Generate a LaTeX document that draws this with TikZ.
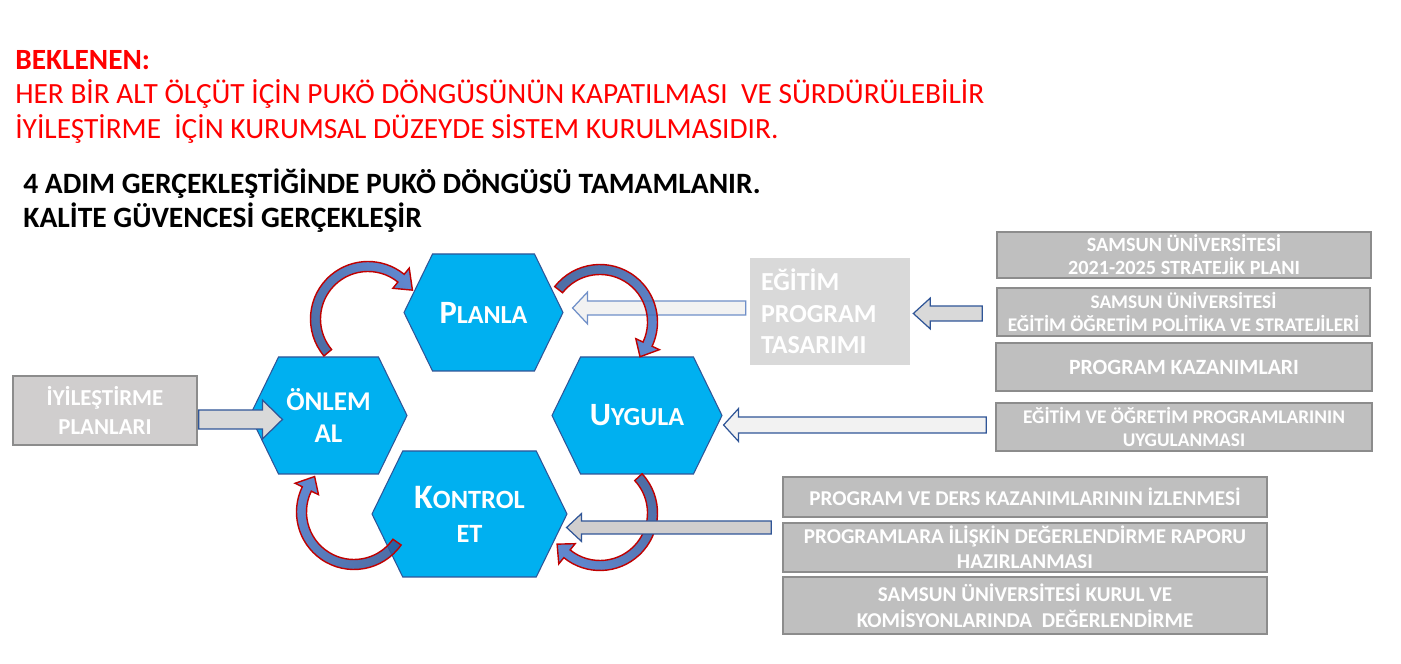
\documentclass[tikz,border=0pt]{standalone}
\usepackage{fontspec}
\setmainfont{Carlito}
\usetikzlibrary{calc,shapes.symbols}

\definecolor{hexblue}{HTML}{00B0F0}
\definecolor{hexline}{HTML}{2F5597}
\definecolor{arrowdark}{HTML}{2F5597}
\definecolor{arrowlight}{HTML}{4472C4}
\definecolor{arrowred}{HTML}{C00000}
\definecolor{boxgrey}{HTML}{BFBFBF}
\definecolor{boxline}{HTML}{8C8C8C}
\definecolor{paleblock}{HTML}{F2F2F2}
\definecolor{midblock}{HTML}{D0CECE}
\definecolor{lightblock}{HTML}{D9D9D9}
\definecolor{paleline}{HTML}{6F8FC8}
\definecolor{titlered}{HTML}{FF0000}

\newcommand{\fsz}[2]{\fontsize{#1}{#2}\selectfont}

% ring arrow of the cycle: centre, tail angle, head angle, tip angle, shading angle
\newcommand{\cyclearrow}[5]{%
  \draw[ringarrow, top color=arrowdark, bottom color=arrowlight, shading angle=#5]
    ([shift={(#1)}]#2:1.15) arc[start angle=#2, end angle=#3, radius=1.15]
    -- ([shift={(#1)}]#3:1.31) -- ([shift={(#1)}]#4:1.06)
    -- ([shift={(#1)}]#3:0.79) -- ([shift={(#1)}]#3:0.95)
    arc[start angle=#3, end angle=#2, radius=0.95] -- cycle;}

% block arrow: style, tail, tip, shaft half width, head half width, head length (cm)
\newcommand{\blockarrow}[6][]{%
  \coordinate (ba-h) at ($(#3)!#6cm!(#2)$);
  \draw[#1] (#3) -- ($(ba-h)!#5cm!90:(#2)$) -- ($(ba-h)!#4cm!90:(#2)$)
    -- ($(#2)!#4cm!-90:(ba-h)$) -- ($(#2)!#4cm!90:(ba-h)$)
    -- ($(ba-h)!#4cm!-90:(#2)$) -- ($(ba-h)!#5cm!-90:(#2)$) -- cycle;}

\begin{document}
\begin{tikzpicture}[
  hex/.style={shape=signal, signal to=east and west, signal pointer angle=128,
              draw=hexline, fill=hexblue, line width=0.6pt, text=white,
              align=center, inner sep=0pt},
  greybox/.style={draw=boxline, fill=boxgrey, line width=0.9pt, text=white,
              align=center, inner sep=0pt},
  ringarrow/.style={draw=arrowred, line width=0.8pt, fill opacity=0.85},
  blockarrow/.style={draw=hexline, line width=0.7pt},
  title/.style={anchor=base west, inner sep=0pt}]

\useasboundingbox (0,0) rectangle (28.02,13.28);

% heading
\node[title, text=titlered, font=\bfseries\fsz{16.7}{18}] (beklenen) at (0.30,11.89) {BEKLENEN:};
\node[title, text=titlered, font=\fsz{16.7}{18}] (hedef1) at (0.30,11.20)
  {HER BİR ALT ÖLÇÜT İÇİN PUKÖ DÖNGÜSÜNÜN KAPATILMASI\ \ VE SÜRDÜRÜLEBİLİR};
\node[title, text=titlered, font=\fsz{16.7}{18}] (hedef2) at (0.30,10.51)
  {İYİLEŞTİRME\ \ İÇİN KURUMSAL DÜZEYDE SİSTEM KURULMASIDIR.};
\node[title, font=\bfseries\fsz{16.8}{18}] (adim1) at (0.46,9.40)
  {4 ADIM GERÇEKLEŞTİĞİNDE PUKÖ DÖNGÜSÜ TAMAMLANIR.};
\node[title, font=\bfseries\fsz{16.8}{18}] (adim2) at (0.46,8.73)
  {KALİTE GÜVENCESİ GERÇEKLEŞİR};

% the four steps
\node[hex, minimum width=3.18cm, minimum height=2.34cm, font=\bfseries\fsz{14.8}{16}]
  (planla) at (9.67,7.03) {{\fsz{18.5}{16}P}LANLA};
\node[hex, minimum width=3.14cm, minimum height=2.34cm, font=\bfseries\fsz{15.4}{18.2}]
  (onlem) at (6.57,4.97) {ÖNLEM\\AL};
\node[hex, minimum width=3.40cm, minimum height=2.34cm, font=\bfseries\fsz{14.8}{16}]
  (uygula) at (12.74,4.97) {{\fsz{18.5}{16}U}YGULA};
\node[hex, minimum width=3.90cm, minimum height=2.52cm, font=\bfseries\fsz{15}{19.3}]
  (kontrol) at (9.39,3.00) {{\fsz{19.5}{19.3}K}ONTROL\\ET};

% inputs
\node[draw=boxline, fill=midblock, line width=0.8pt, text=white, align=center,
      minimum width=3.68cm, minimum height=1.38cm, inner sep=0pt,
      font=\bfseries\fsz{13}{16}] (iyiplan) at (2.10,5.07) {İYİLEŞTİRME\\PLANLARI};
\node[fill=lightblock, text=white, align=left, text width=2.76cm, inner xsep=0.22cm,
      inner ysep=0pt, minimum height=2.14cm, font=\bfseries\fsz{14.8}{18}]
  (tasarim) at (16.60,7.05) {EĞİTİM\\PROGRAM\\TASARIMI};

\node[greybox, minimum width=7.48cm, minimum height=0.92cm, font=\bfseries\fsz{11.5}{13}]
  (stratplan) at (23.68,8.18) {SAMSUN ÜNİVERSİTESİ\\2021-2025 STRATEJİK PLANI};
\node[greybox, minimum width=7.46cm, minimum height=0.96cm, font=\bfseries\fsz{11}{13}]
  (politika) at (23.67,7.04) {SAMSUN ÜNİVERSİTESİ\\EĞİTİM ÖĞRETİM POLİTİKA VE STRATEJİLERİ};
\node[greybox, minimum width=7.52cm, minimum height=0.96cm, font=\bfseries\fsz{12.4}{14}]
  (kazanim) at (23.68,5.94) {PROGRAM KAZANIMLARI};
\node[greybox, minimum width=7.52cm, minimum height=0.96cm, font=\bfseries\fsz{11}{13}]
  (uygulanma) at (23.68,4.74) {EĞİTİM VE ÖĞRETİM PROGRAMLARININ\\UYGULANMASI};

\node[greybox, minimum width=9.68cm, minimum height=0.80cm, font=\bfseries\fsz{12}{14.3}]
  (izleme) at (20.50,3.34) {PROGRAM VE DERS KAZANIMLARININ İZLENMESİ};
\node[greybox, minimum width=9.68cm, minimum height=0.98cm, font=\bfseries\fsz{12}{14.3}]
  (rapor) at (20.50,2.33) {PROGRAMLARA İLİŞKİN DEĞERLENDİRME RAPORU\\HAZIRLANMASI};
\node[greybox, minimum width=9.68cm, minimum height=1.14cm, font=\bfseries\fsz{12}{14.8}]
  (kurul) at (20.50,1.17) {SAMSUN ÜNİVERSİTESİ KURUL VE\\KOMİSYONLARINDA\ \ DEĞERLENDİRME};

% free ends of the block arrows
\coordinate (iyi-tail) at ($(iyiplan.east)+(0.02,-0.18)$);
\coordinate (iyi-tip)  at ($(onlem.west)+(0.66,-0.08)$);
\coordinate (tas-tail) at ($(tasarim.west)+(-0.08,0.07)$);
\coordinate (tas-tip)  at ($(planla.east)+(0.18,0.09)$);
\coordinate (pol-tail) at ($(politika.west)+(-0.28,-0.03)$);
\coordinate (pol-tip)  at ($(tasarim.east)+(0.06,-0.04)$);
\coordinate (uyg-tail) at ($(uygulanma.west)+(-0.18,0.04)$);
\coordinate (uyg-tip)  at ($(uygula.east)+(0.02,-0.19)$);
\coordinate (rap-tail) at ($(rapor.west)+(-0.22,0.40)$);
\coordinate (rap-tip)  at ($(kontrol.east)+(-0.02,-0.27)$);

\blockarrow[blockarrow, fill=lightblock]{iyi-tail}{iyi-tip}{0.19}{0.39}{0.40}
\blockarrow[blockarrow, draw=paleline, fill=paleblock]{tas-tail}{tas-tip}{0.14}{0.32}{0.30}
\blockarrow[blockarrow, fill=lightblock]{pol-tail}{pol-tip}{0.15}{0.31}{0.34}
\blockarrow[blockarrow, fill=paleblock]{uyg-tail}{uyg-tip}{0.16}{0.33}{0.30}

% the cycle P -> U -> K -> O -> P
\coordinate (ring-op) at (7.36,6.90);
\coordinate (ring-pu) at (12.00,6.84);
\coordinate (ring-uk) at (12.00,3.02);
\coordinate (ring-ko) at (7.08,3.04);
\cyclearrow{ring-op}{220}{51}{33}{130}
\cyclearrow{ring-pu}{142}{-25}{-41}{52}
\cyclearrow{ring-uk}{43}{-129}{-144}{-47}
\cyclearrow{ring-ko}{-35}{-206}{-222}{235}

\blockarrow[blockarrow, fill=midblock]{rap-tail}{rap-tip}{0.13}{0.28}{0.30}
\end{tikzpicture}
\end{document}
